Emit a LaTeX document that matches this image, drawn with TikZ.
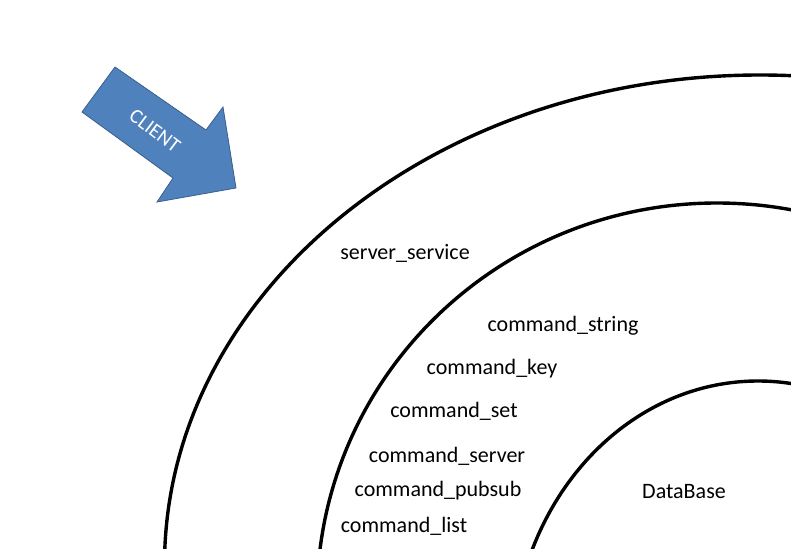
\documentclass[tikz,border=0pt]{standalone}
\usepackage{fontspec}
\setmainfont{Carlito}
\definecolor{arrowblue}{HTML}{4F81BD}
\definecolor{arrowedge}{HTML}{3A5F8B}
\tikzset{
  ring/.style={line width=3.4pt, black},
  label/.style={font=\fontsize{22}{26}\selectfont, inner sep=0pt, anchor=center},
}
\begin{document}
\begin{tikzpicture}[x=1pt,y=-1pt]
\useasboundingbox (0,0) rectangle (791,548);
\begin{scope}
\clip (0,0) rectangle (791,548);
% outer ring
\draw[ring] (760,565) ellipse [x radius=595.5pt, y radius=490pt];
% middle ring
\draw[ring] (717,598) ellipse [x radius=400pt, y radius=395pt];
% inner ring
\draw[ring] (758,661) ellipse [x radius=246pt, y radius=280pt];
\end{scope}
% client arrow
\draw[fill=arrowblue, draw=arrowedge, line width=0.8pt, line join=miter]
  (82,112) -- (115,67) -- (206,130) -- (223,107) -- (236,188) -- (157,202) -- (173,178) -- cycle;
\node[font=\fontsize{20.5}{24}\selectfont, text=white, rotate=-37, inner sep=0pt] (client) at (155,131) {CLIENT};
% labels
\node[label] (srv) at (405,253) {server\_service};
\node[label] (cstr) at (563,326) {command\_string};
\node[label] (ckey) at (492,369) {command\_key};
\node[label] (cset) at (454,411) {command\_set};
\node[label] (cserver) at (447,456) {command\_server};
\node[label] (cpub) at (438,491) {command\_pubsub};
\node[label] (clist) at (404,526) {command\_list};
\node[label] (db) at (684,492) {DataBase};
\end{tikzpicture}
\end{document}
